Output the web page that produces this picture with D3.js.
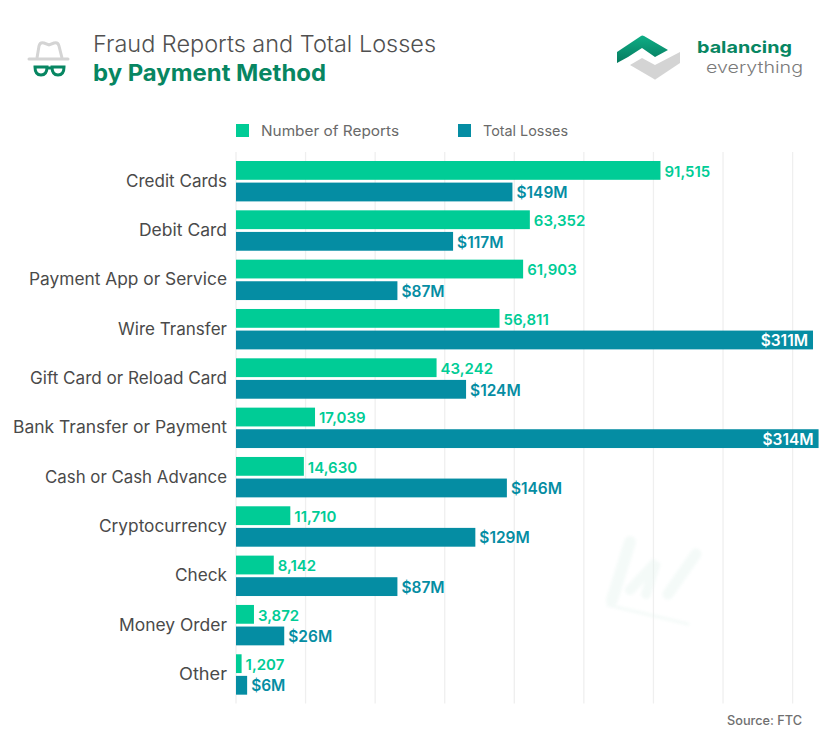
<!DOCTYPE html>
<html><head><meta charset="utf-8">
<script src="https://cdn.jsdelivr.net/npm/d3@7/dist/d3.min.js"></script>
<style>html,body{margin:0;background:#fff}svg{display:block}text{font-family:Inter,"Open Sans",sans-serif}</style>
</head><body><svg id="c" width="830" height="746"></svg>
<script>
const categories=["Credit Cards","Debit Card","Payment App or Service","Wire Transfer","Gift Card or Reload Card","Bank Transfer or Payment","Cash or Cash Advance","Cryptocurrency","Check","Money Order","Other"];
const reports=[91515,63352,61903,56811,43242,17039,14630,11710,8142,3872,1207];
const losses=[149,117,87,311,124,314,146,129,87,26,6];
const reportTicks=[0,15000,30000,45000,60000,75000,90000,105000,120000];
const seriesNames=["Number of Reports","Total Losses"];
const titleLines=["Fraud Reports and Total Losses","by Payment Method"];
const C={rep:"#00cc96",loss:"#058da3",txt:"#4a4a4a",title:"#505050",green:"#078662",grid:"#efefef"};
const labelFit=[101,88,198,109,197,214,182,128,52,108,48];

const svg=d3.select("#c");
svg.append("rect").attr("width",830).attr("height",746).attr("fill","#fff");
const xR=d3.scaleLinear().domain([0,120000]).range([236,792.6]);
const xL=d3.scaleLinear().domain([0,300]).range([236,792.6]);
const y=d3.scaleBand().domain(categories).range([152,694.6]).paddingInner(0).paddingOuter(0);
const defs=svg.append("defs");
defs.append("filter").attr("id","bl").append("feGaussianBlur").attr("stdDeviation",1.6);

// grid
svg.append("g").selectAll("line").data(reportTicks).join("line")
 .attr("x1",d=>xR(d)).attr("x2",d=>xR(d)).attr("y1",152).attr("y2",703.5)
 .attr("stroke",C.grid).attr("stroke-width",1.3);

// watermark
const wm=svg.append("g").attr("fill","none").attr("stroke","#e4f3ee").attr("stroke-linecap","round").attr("opacity",.4).attr("filter","url(#bl)");
wm.append("path").attr("d","M608 605L688 624").attr("stroke-width",3);
wm.append("path").attr("d","M630 542L612 600").attr("stroke-width",12);
wm.append("path").attr("d","M630 590L656 562L646 594").attr("stroke-width",10);
wm.append("path").attr("d","M668 594L696 554").attr("stroke-width",11);

const lab=(sel,fs)=>sel.attr("dominant-baseline","central").attr("font-size",fs).attr("font-weight",600);
// bars
const row=svg.append("g").selectAll("g").data(categories).join("g");
row.append("text").attr("x",227).attr("y",d=>y(d)+28.6).attr("text-anchor","end")
 .attr("dominant-baseline","central").attr("font-size",16.6).attr("fill",C.txt).text(d=>d)
 .attr("lengthAdjust","spacingAndGlyphs")
 .attr("textLength",(d,i)=>labelFit[i]);
row.append("rect").attr("x",xR(0)).attr("y",d=>y(d)+9).attr("height",18.8)
 .attr("width",(d,i)=>xR(reports[i])-xR(0)).attr("fill",C.rep);
row.append("rect").attr("x",xL(0)).attr("y",d=>y(d)+30.6).attr("height",18.8)
 .attr("width",(d,i)=>xL(losses[i])-xL(0)).attr("fill",C.loss);
row.append("text").attr("x",(d,i)=>xR(reports[i])+4).attr("y",d=>y(d)+19.3).attr("fill",C.rep)
 .text((d,i)=>d3.format(",")(reports[i])).call(lab,15);
row.append("text").attr("x",(d,i)=>losses[i]>300?xL(losses[i])-5:xL(losses[i])+4).attr("y",d=>y(d)+40.7)
 .attr("text-anchor",(d,i)=>losses[i]>300?"end":"start").attr("fill",(d,i)=>losses[i]>300?"#fff":C.loss)
 .text((d,i)=>"$"+losses[i]+"M").call(lab,15.5);

// legend
const lg=[[236,261,C.rep],[458,483,C.loss]];
seriesNames.forEach((n,i)=>{
 svg.append("rect").attr("x",lg[i][0]).attr("y",124).attr("width",13).attr("height",13).attr("fill",lg[i][2]);
 svg.append("text").attr("x",lg[i][1]).attr("y",130.5).attr("dominant-baseline","central").attr("font-size",14.4).attr("fill","#6a6a6a").text(n);
});

// titles
svg.append("text").attr("x",93).attr("y",52).attr("font-size",23).attr("font-weight",300).attr("fill",C.title).text(titleLines[0]);
svg.append("text").attr("x",93).attr("y",81).attr("font-size",23).attr("font-weight",700).attr("fill",C.green).text(titleLines[1]);
svg.append("text").attr("x",802).attr("y",725).attr("text-anchor","end").attr("font-size",12.6).attr("font-weight",500).attr("fill","#6f6f6f").text("Source: FTC");

// hat icon
svg.append("path").attr("d","M37 58L39 46Q40 42 44 43L49 45L54 43Q58 42 59 46L62 58").attr("fill","none").attr("stroke","#d4d4d4").attr("stroke-width",3);
svg.append("path").attr("d","M29 59H68").attr("stroke","#d4d4d4").attr("stroke-width",3).attr("stroke-linecap","round");
svg.append("path").attr("d","M35 67H47Q47 75 41 75Q35 75 35 67ZM52 67H64Q64 75 58 75Q52 75 52 67ZM47 68H52").attr("fill","none").attr("stroke",C.green).attr("stroke-width",3);

// logo
const grad=defs.append("linearGradient").attr("id","lg").attr("x1",0).attr("y1",0).attr("x2",0).attr("y2",1);
grad.append("stop").attr("offset",0).attr("stop-color","#0fae86");
grad.append("stop").attr("offset",1).attr("stop-color","#067a5e");
svg.append("path").attr("d","M617 63V52L641 36Q642 35 644 36L668 50L655 57L642 48L628 57Z").attr("fill","url(#lg)");
svg.append("path").attr("d","M630 65L642 58L655 65L680 52V63L656 79Q655 80 654 79Z").attr("fill","#d4d4d4");
svg.append("text").attr("x",697).attr("y",53).attr("font-size",16.5).attr("font-weight",700).attr("fill",C.green).text("balancing");
svg.append("text").attr("x",706).attr("y",73).attr("font-size",16.5).attr("font-weight",300).attr("fill","#7a7a7a").text("everything");

// fit text widths to reference
const fit=(t,w)=>svg.selectAll("text").filter(function(){return this.textContent===t}).attr("textLength",w).attr("lengthAdjust","spacingAndGlyphs");
fit(titleLines[0],343);fit(titleLines[1],233);fit("balancing",95);fit("everything",97);fit("Source: FTC",75);
fit(seriesNames[0],138);fit(seriesNames[1],85);
</script></body></html>
